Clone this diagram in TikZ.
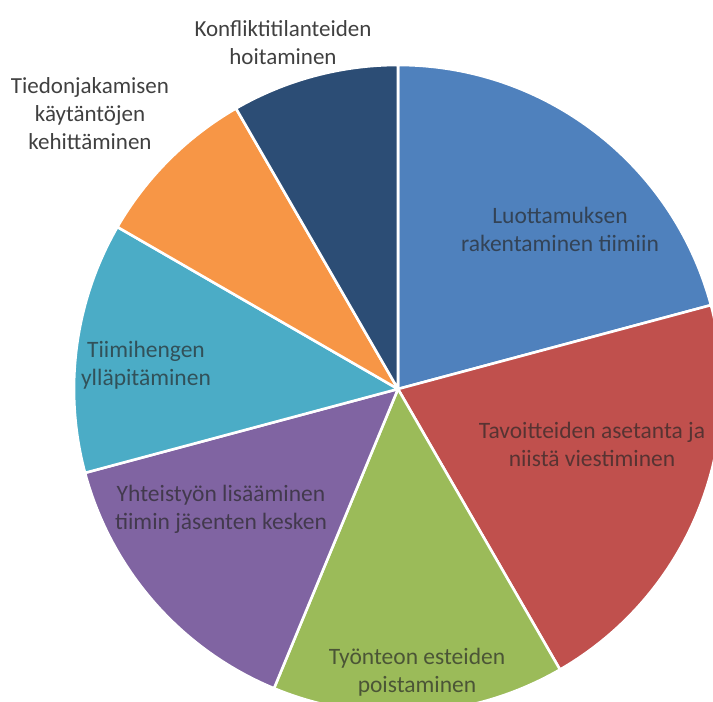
\documentclass[tikz,border=0pt]{standalone}
\usepackage{fontspec}
\setmainfont{Carlito}
\definecolor{cBlue}{HTML}{4F81BD}
\definecolor{cRed}{HTML}{C0504D}
\definecolor{cGreen}{HTML}{9BBB59}
\definecolor{cPurple}{HTML}{8064A2}
\definecolor{cCyan}{HTML}{4BACC6}
\definecolor{cOrange}{HTML}{F79646}
\definecolor{cNavy}{HTML}{2C4D75}
\definecolor{labelgray}{HTML}{404040}
\begin{document}
\begin{tikzpicture}[x=1pt,y=1pt,
  slice/.style={draw=white, line width=2.6pt, line join=round},
  outlabel/.style={align=center, text=labelgray, font=\fontsize{23}{28}\selectfont, inner sep=0pt},
  inlabel/.style={align=center, text=black!85, text opacity=0.68, font=\fontsize{23.5}{28}\selectfont, inner sep=0pt}]
\useasboundingbox (0,0) rectangle (713,702);
\clip (0,0) rectangle (713,702);
\coordinate (c) at (398,313);
\def\R{324}
% pie slices, counter-clockwise angles
\fill[cBlue,   slice] (c) -- ++(15:\R)    arc[start angle=15,    end angle=90,    radius=\R] -- cycle;
\fill[cRed,    slice] (c) -- ++(-60:\R)   arc[start angle=-60,   end angle=15,    radius=\R] -- cycle;
\fill[cGreen,  slice] (c) -- ++(-112.5:\R) arc[start angle=-112.5, end angle=-60, radius=\R] -- cycle;
\fill[cPurple, slice] (c) -- ++(-165:\R)  arc[start angle=-165,  end angle=-112.5, radius=\R] -- cycle;
\fill[cCyan,   slice] (c) -- ++(150:\R)   arc[start angle=150,   end angle=195,   radius=\R] -- cycle;
\fill[cOrange, slice] (c) -- ++(120:\R)   arc[start angle=120,   end angle=150,   radius=\R] -- cycle;
\fill[cNavy,   slice] (c) -- ++(90:\R)    arc[start angle=90,    end angle=120,   radius=\R] -- cycle;
% labels
\node[inlabel]  (lBlue)   at (560,473) {Luottamuksen\\rakentaminen tiimiin};
\node[inlabel]  (lRed)    at (592,258) {Tavoitteiden asetanta ja\\niistä viestiminen};
\node[inlabel]  (lGreen)  at (417,30)  {Työnteon esteiden\\poistaminen};
\node[inlabel]  (lPurple) at (221,193) {Yhteistyön lisääminen\\tiimin jäsenten kesken};
\node[inlabel]  (lCyan)   at (146,337) {Tiimihengen\\ylläpitäminen};
\node[outlabel] (lOrange) at (90,588)  {Tiedonjakamisen\\käytäntöjen\\kehittäminen};
\node[outlabel] (lNavy)   at (283,659) {Konfliktitilanteiden\\hoitaminen};
\end{tikzpicture}
\end{document}
